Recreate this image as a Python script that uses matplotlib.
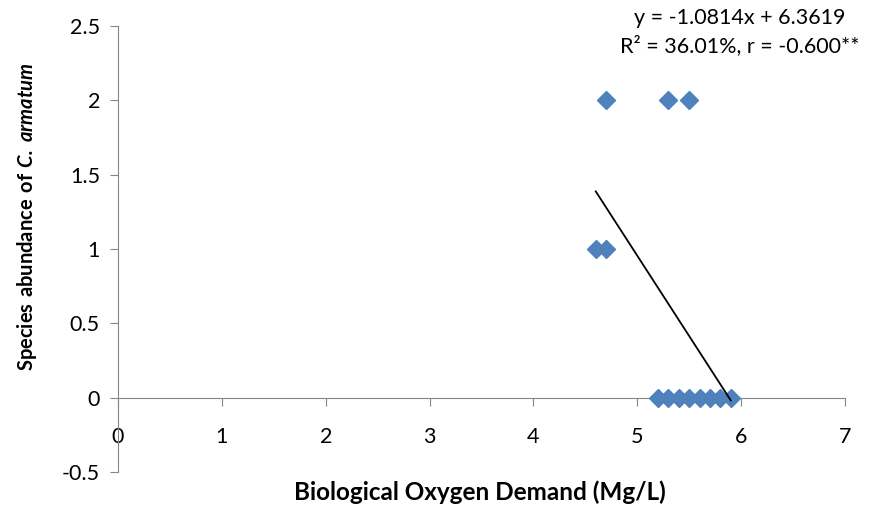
import matplotlib
matplotlib.use("Agg")
import matplotlib.pyplot as plt
import numpy as np

plt.rcParams['font.family'] = ['Lato', 'DejaVu Sans']
plt.rcParams['mathtext.fontset'] = 'custom'
plt.rcParams['mathtext.rm'] = 'Lato'
plt.rcParams['mathtext.bf'] = 'Lato:bold'
plt.rcParams['mathtext.bfit'] = 'Lato:bold:italic'

# BOD readings and C. armatum abundance
bod = [4.7, 5.3, 5.5, 4.6, 4.7, 5.2, 5.3, 5.4, 5.5, 5.6, 5.7, 5.8, 5.9]
abundance = [2, 2, 2, 1, 1, 0, 0, 0, 0, 0, 0, 0, 0]

# fitted trend line
slope = -1.0814
intercept = 6.3619
x_ticks = [0, 1, 2, 3, 4, 5, 6, 7]
y_ticks = [-0.5, 0, 0.5, 1, 1.5, 2, 2.5]

axis_grey = '#868686'

fig = plt.figure(figsize=(8.71, 5.08), dpi=100)
ax = fig.add_axes([118/871, 36/508, (845-118)/871, (472-26)/508])

ax.plot(bod, abundance, linestyle='none', marker='D', markersize=9.5,
        color='#4F81BD', zorder=3)

xs = np.array([min(bod), max(bod)])
ax.plot(xs, slope*xs + intercept, color='black', linewidth=1.3, zorder=4)

ax.set_xlim(0, 7)
ax.set_ylim(-0.5, 2.5)
ax.set_xticks(x_ticks)
ax.set_yticks(y_ticks)
ax.set_yticklabels(['-0.5', '0', '0.5', '1', '1.5', '2', '2.5'])

for s in ['top', 'right']:
    ax.spines[s].set_visible(False)
ax.spines['bottom'].set_position(('data', 0))
ax.spines['bottom'].set_color(axis_grey)
ax.spines['left'].set_color(axis_grey)
ax.tick_params(axis='x', direction='out', length=6, color=axis_grey,
               pad=15, labelsize=15.5, labelcolor='black')
ax.tick_params(axis='y', direction='out', length=6, color=axis_grey,
               pad=7, labelsize=15.5, labelcolor='black')

fig.text(480/871, 1 - 492/508, 'Biological Oxygen Demand (Mg/L)',
         ha='center', va='center', fontsize=17.5, fontweight='bold')
fig.text(27/871, 1 - 217/508,
         r'$\mathbf{Species\ abundance\ of\ }\mathbfit{C.\:armatum}$',
         ha='center', va='center', rotation=90, fontsize=14.5)

fig.text(740/871, 1 - 18/508, 'y = -1.0814x + 6.3619', ha='center',
         va='center', fontsize=15.5)
fig.text(740/871, 1 - 46/508, 'R² = 36.01%, r = -0.600**', ha='center',
         va='center', fontsize=15.5)

fig.savefig('out.png', dpi=100)
